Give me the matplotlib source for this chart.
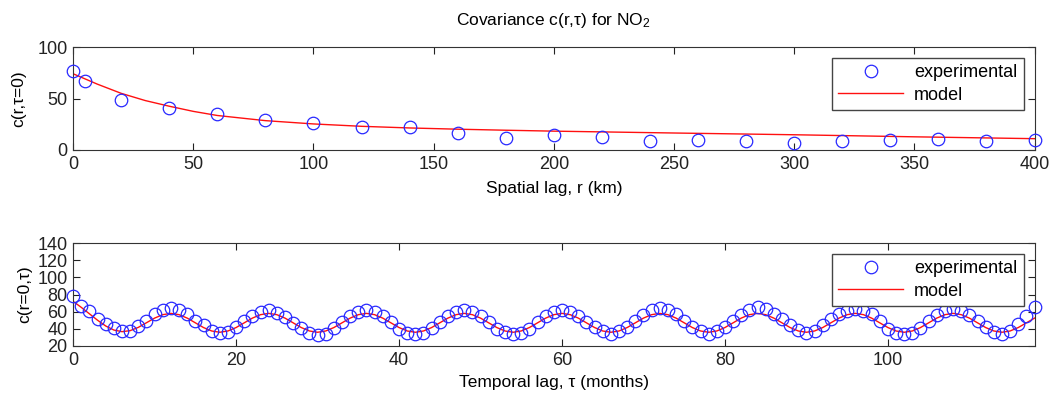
import matplotlib
matplotlib.use("Agg")
import matplotlib.pyplot as plt

plt.rcParams['font.family'] = ['Liberation Sans', 'DejaVu Sans']
plt.rcParams['mathtext.fontset'] = 'custom'
plt.rcParams['mathtext.rm'] = 'Liberation Sans'
plt.rcParams['mathtext.it'] = 'Liberation Sans'

# spatial covariance at zero time lag
r_exp = [0, 5, 20, 40, 60, 80, 100, 120, 140, 160, 180, 200, 220, 240, 260, 280, 300, 320, 340, 360, 380, 400]
c_r_exp = [77, 67, 48.5, 41, 34.6, 28.8, 26.2, 22, 22.3, 16.2, 12, 14.6, 12.6, 8.4, 9.4, 8.4, 6.8, 8.4, 10, 11, 8.4, 9.7]

r_mod = [0, 5, 10, 20, 30, 40, 50, 60, 80, 100, 120, 140, 160, 180, 200, 250, 300, 350, 400]
c_r_mod = [74, 69, 64, 55, 48, 42.5, 37.5, 33.5, 28.5, 25.3, 23, 21.4, 20.2, 19.2, 18.3, 16.5, 14.8, 12.8, 11]

# temporal covariance at zero spatial lag (monthly)
c_t_exp = [78.8, 67, 60.4, 52, 45.5, 40.8, 36.9, 37.6, 43.5, 49.4, 57.3, 62,
           64, 62, 57.3, 49.4, 44.3, 37.6, 35.7, 36.5, 41.6, 48.6, 54.5, 59.6,
           62, 59, 54, 46.5, 40.5, 35.6, 33.3, 34.5, 41.5, 48.1, 54.4, 59.8,
           62.2, 60, 54.4, 48.1, 40.3, 35.6, 33.7, 35.6, 40.7, 48.1, 54.8, 59.8,
           62.2, 60, 54.4, 48.1, 40.3, 36.4, 33.7, 34.8, 40.3, 48.1, 55.2, 59.8,
           62.2, 59.8, 55.2, 48.5, 42.7, 37.6, 33.7, 37.6, 42.7, 49.3, 56.3, 62.2,
           63.8, 62.2, 57.1, 49.3, 42.7, 37.6, 34.5, 37.2, 42.7, 49.3, 55.9, 62.2,
           64.9, 63, 57.1, 51, 44, 38.4, 34.8, 37.6, 44.2, 51.2, 57.1, 61,
           63, 61, 57.1, 49.3, 40.3, 35.6, 33.7, 35.6, 41.5, 49.3, 55.9, 61,
           63, 61, 56.3, 49.3, 42.7, 36.8, 33.7, 37.6, 45.4, 55.2, 64.9]
t_exp = list(range(len(c_t_exp)))

c_t_mod = [72, 65, 57.5, 50, 43.3, 38.6, 36.7, 37.9, 41.7, 47.1, 52.5, 56.5,
           58, 56.5, 52.5, 47, 41.5, 37.5, 36, 37.5, 41.5, 47, 52.5, 56.5,
           58, 56.5, 52.5, 47, 41.5, 37.5, 36, 37.5, 41.5, 47, 52.5, 56.5,
           58, 56.5, 52.5, 47, 41.5, 37.5, 36, 37.5, 41.5, 47, 52.5, 56.5,
           58, 56.5, 52.5, 47, 41.5, 37.5, 36, 37.5, 41.5, 47, 52.5, 56.5,
           58, 56.5, 52.5, 47, 41.5, 37.5, 36, 37.5, 41.5, 47, 52.5, 56.5,
           58, 56.5, 52.5, 47, 41.5, 37.5, 36, 37.5, 41.5, 47, 52.5, 56.5,
           58, 56.5, 52.5, 47, 41.5, 37.5, 36, 37.5, 41.5, 47, 52.5, 56.5,
           58, 56.5, 52.5, 47, 41.5, 37.5, 36, 37.5, 41.5, 47, 52.5, 56.5,
           58, 56.5, 52.5, 47, 41.5, 37.5, 36, 37.5, 41.5, 47, 52.5]
t_mod = list(range(len(c_t_mod)))

fig = plt.figure(figsize=(10.6, 4), dpi=100)
ax1 = fig.add_axes([0.069, 0.625, 0.907, 0.2575])
ax2 = fig.add_axes([0.069, 0.135, 0.907, 0.2575])

def style(ax):
    ax.tick_params(direction='in', top=True, right=True, length=5, width=0.8,
                   labelsize=13, colors='#222222', pad=4)
    for s in ax.spines.values():
        s.set_color('#333333')
        s.set_linewidth(0.8)

def legend(ax):
    ax.legend(loc='upper right', fontsize=13, fancybox=False, framealpha=1,
              edgecolor='#444444', handlelength=3.6, numpoints=1,
              borderaxespad=0.6, labelspacing=0.3, handletextpad=0.6,
              borderpad=0.35)

ax1.plot(r_exp, c_r_exp, 'o', mfc='none', mec='#2828ff', ms=9, mew=0.9,
         clip_on=False, label='experimental', zorder=3)
ax1.plot(r_mod, c_r_mod, '-', color='#ff1010', lw=1, label='model')
ax1.set_xlim(0, 400)
ax1.set_ylim(0, 100)
ax1.set_xticks(range(0, 401, 50))
ax1.set_yticks([0, 50, 100])
ax1.set_xlabel('Spatial lag, r (km)', fontsize=12.5, labelpad=6)
ax1.set_ylabel('c(r,τ=0)', fontsize=12.5, labelpad=8)
ax1.set_title('Covariance c(r,τ) for NO$_2$', fontsize=12.5, pad=16)
style(ax1)
legend(ax1)

ax2.plot(t_exp, c_t_exp, 'o', mfc='none', mec='#2828ff', ms=9, mew=0.9,
         clip_on=False, label='experimental', zorder=3)
ax2.plot(t_mod, c_t_mod, '-', color='#ff1010', lw=1, label='model')
ax2.set_xlim(0, t_exp[-1])
ax2.set_ylim(20, 140)
ax2.set_xticks(range(0, 101, 20))
ax2.set_yticks(range(20, 141, 20))
ax2.set_xlabel('Temporal lag, τ (months)', fontsize=12.5, labelpad=5)
ax2.set_ylabel('c(r=0,τ)', fontsize=12.5, labelpad=4)
style(ax2)
legend(ax2)

fig.savefig('out.png', dpi=100)
